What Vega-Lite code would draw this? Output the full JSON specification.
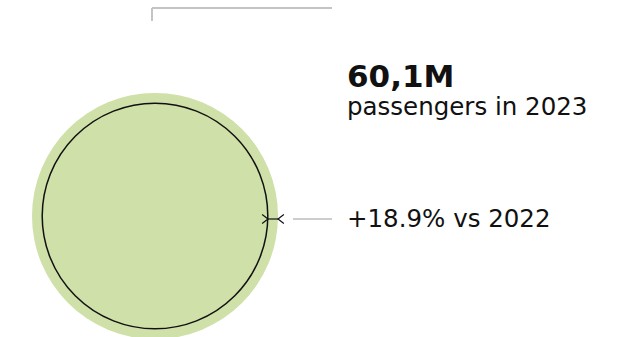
{
  "$schema": "https://vega.github.io/schema/vega-lite/v6.json",
  "width": 642,
  "height": 337,
  "autosize": {"type": "none"},
  "padding": 0,
  "background": "white",
  "config": {"view": {"stroke": null}},
  "datasets": {
    "circles": [
      {"year": "2023", "passengers": 60.1, "cx": 155, "cy": 216},
      {"year": "2022", "passengers": 50.55, "cx": 155, "cy": 216}
    ],
    "topLines": [
      {"x": 152, "y": 8, "x2": 332, "y2": 8},
      {"x": 152, "y": 8, "x2": 152, "y2": 21}
    ],
    "connector": [{"x": 293, "y": 219, "x2": 332, "y2": 219}],
    "dimLine": [{"x": 268, "y": 219, "x2": 278, "y2": 219}],
    "arrowL": [{"x": 268, "y": 219}],
    "arrowR": [{"x": 278, "y": 219}],
    "labels": [
      {"text": "60,1M", "x": 347, "y": 87, "kind": "big"},
      {"text": "passengers in 2023", "x": 347, "y": 115, "kind": "sub"},
      {"text": "+18.9% vs 2022", "x": 347, "y": 227, "kind": "sub"}
    ]
  },
  "layer": [
    {
      "data": {"name": "circles"},
      "transform": [{"filter": "datum.year === '2023'"}],
      "mark": {"type": "point", "shape": "circle", "filled": true, "color": "#cfe0a9", "opacity": 1, "strokeWidth": 0},
      "encoding": {
        "x": {"field": "cx", "type": "quantitative", "scale": {"domain": [0, 642], "nice": false}, "axis": null},
        "y": {"field": "cy", "type": "quantitative", "scale": {"domain": [337, 0], "nice": false}, "axis": null},
        "size": {"field": "passengers", "type": "quantitative", "scale": {"domain": [0, 60.1], "range": [0, 60516], "zero": true}, "legend": null}
      }
    },
    {
      "data": {"name": "circles"},
      "transform": [{"filter": "datum.year === '2022'"}],
      "mark": {"type": "point", "shape": "circle", "filled": false, "stroke": "#111111", "strokeWidth": 1.5, "opacity": 1},
      "encoding": {
        "x": {"field": "cx", "type": "quantitative"},
        "y": {"field": "cy", "type": "quantitative"},
        "size": {"field": "passengers", "type": "quantitative"}
      }
    },
    {
      "data": {"name": "topLines"},
      "mark": {"type": "rule", "color": "#c4c4c4", "strokeWidth": 2},
      "encoding": {
        "x": {"field": "x", "type": "quantitative"},
        "y": {"field": "y", "type": "quantitative"},
        "x2": {"field": "x2"},
        "y2": {"field": "y2"}
      }
    },
    {
      "data": {"name": "connector"},
      "mark": {"type": "rule", "color": "#9a9a9a", "strokeWidth": 1},
      "encoding": {
        "x": {"field": "x", "type": "quantitative"},
        "y": {"field": "y", "type": "quantitative"},
        "x2": {"field": "x2"},
        "y2": {"field": "y2"}
      }
    },
    {
      "data": {"name": "dimLine"},
      "mark": {"type": "rule", "color": "#111111", "strokeWidth": 1.2},
      "encoding": {
        "x": {"field": "x", "type": "quantitative"},
        "y": {"field": "y", "type": "quantitative"},
        "x2": {"field": "x2"},
        "y2": {"field": "y2"}
      }
    },
    {
      "data": {"name": "arrowL"},
      "mark": {"type": "point", "shape": "M-1.3,-1L0,0L-1.3,1", "filled": false, "stroke": "#111111", "strokeWidth": 1.2, "size": 81, "opacity": 1},
      "encoding": {
        "x": {"field": "x", "type": "quantitative"},
        "y": {"field": "y", "type": "quantitative"}
      }
    },
    {
      "data": {"name": "arrowR"},
      "mark": {"type": "point", "shape": "M1.3,-1L0,0L1.3,1", "filled": false, "stroke": "#111111", "strokeWidth": 1.2, "size": 81, "opacity": 1},
      "encoding": {
        "x": {"field": "x", "type": "quantitative"},
        "y": {"field": "y", "type": "quantitative"}
      }
    },
    {
      "data": {"name": "labels"},
      "transform": [{"filter": "datum.kind === 'big'"}],
      "mark": {"type": "text", "align": "left", "baseline": "alphabetic", "font": "DejaVu Sans", "fontSize": 31, "fontWeight": "bold", "color": "#111111"},
      "encoding": {
        "x": {"field": "x", "type": "quantitative"},
        "y": {"field": "y", "type": "quantitative"},
        "text": {"field": "text"}
      }
    },
    {
      "data": {"name": "labels"},
      "transform": [{"filter": "datum.kind === 'sub'"}],
      "mark": {"type": "text", "align": "left", "baseline": "alphabetic", "font": "DejaVu Sans", "fontSize": 24.5, "fontWeight": 400, "color": "#111111"},
      "encoding": {
        "x": {"field": "x", "type": "quantitative"},
        "y": {"field": "y", "type": "quantitative"},
        "text": {"field": "text"}
      }
    }
  ]
}
